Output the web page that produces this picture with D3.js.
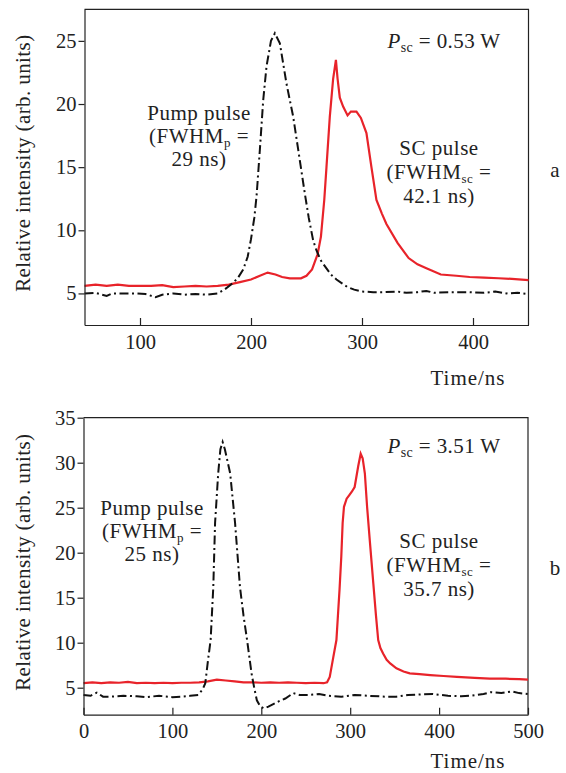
<!DOCTYPE html>
<html>
<head>
<meta charset="utf-8">
<script src="https://cdn.jsdelivr.net/npm/d3@7"></script>
<style>
  body { margin: 0; background: #fff; }
  svg text { font-family: "Liberation Serif", "Times New Roman", Times, "DejaVu Serif", serif; fill: #222; }
</style>
</head>
<body>
<script>
// panel a: time (ns), relative intensity
var pumpA = [[50,5.0],[60,5.05],[70,4.8],[75,5.0],[85,5.0],[95,5.0],[105,4.95],[114,4.7],[120,4.9],[130,5.0],[140,4.9],[150,4.95],[160,4.9],[170,5.0],[176,5.3],[182,5.7],[188,6.2],[193,6.9],[197,7.9],[200,9.3],[203,11],[205,12.7],[208,16.4],[211,20.3],[214,23],[218,25],[221.5,25.6],[226,24.8],[232,21.6],[238,19],[242.5,16.4],[248.5,12.9],[252,11],[256,9.2],[259,8.4],[263,7.6],[267,7.1],[272,6.5],[277,6.1],[282,5.8],[287,5.5],[293,5.3],[300,5.15],[310,5.1],[320,5.1],[332,5.15],[340,5.05],[350,5.1],[358,5.2],[365,5.05],[380,5.1],[397,5.1],[410,5.05],[420,5.15],[430,5.0],[440,5.05],[450,4.95]];
var scA = [[50,5.6],[60,5.7],[70,5.6],[80,5.7],[90,5.6],[100,5.6],[110,5.6],[120,5.65],[130,5.5],[140,5.55],[150,5.6],[160,5.55],[170,5.6],[180,5.7],[190,5.9],[200,6.1],[208,6.4],[215,6.65],[222,6.5],[228,6.3],[235,6.2],[245,6.2],[250,6.4],[255,6.9],[260,8.1],[263,9.5],[266,12.4],[268,15],[271,19],[274,22],[276.5,23.5],[278,22],[280,20.5],[283,19.8],[287,19.1],[290,19.4],[295,19.4],[299,18.9],[304,17.7],[308.5,15],[313,12.4],[318,11.3],[322,10.5],[332,9.0],[342,7.8],[350,7.3],[358,7.0],[371,6.5],[385,6.4],[397,6.3],[410,6.25],[423,6.2],[435,6.15],[450,6.05]];

// panel b
var pumpB = [[0,4.2],[8,4.1],[15,4.45],[22,4.0],[30,4.0],[45,4.1],[60,4.05],[70,3.95],[85,4.1],[100,3.95],[110,4.0],[120,4.1],[129,4.2],[134,4.8],[137,5.5],[140,8],[143,10.3],[146,16.2],[148,23.3],[151.5,28.8],[154,31.5],[156.5,32.3],[159,31.5],[165,28.8],[170.5,23.3],[176,16.2],[180,13],[184,10.3],[189,6.6],[192,5],[195,3.6],[199,2.9],[203,2.7],[208,2.9],[214,3.2],[220,3.5],[227,3.8],[236,4.4],[243,4.2],[255,4.2],[265,4.3],[275,4.1],[290,4.0],[305,4.2],[320,4.1],[340,4.0],[352,4.0],[365,4.2],[380,4.25],[393,4.3],[410,4.1],[425,4.05],[435,4.1],[450,4.3],[458,4.5],[470,4.4],[482,4.6],[490,4.4],[500,4.3]];
var scB = [[0,5.5],[10,5.6],[20,5.5],[30,5.6],[40,5.55],[50,5.65],[60,5.5],[70,5.55],[80,5.5],[90,5.55],[100,5.5],[110,5.55],[120,5.55],[130,5.6],[140,5.7],[150,5.9],[160,5.8],[170,5.7],[180,5.6],[190,5.6],[200,5.55],[210,5.6],[220,5.55],[230,5.6],[240,5.55],[250,5.5],[260,5.55],[270,5.5],[274,5.6],[277,6.2],[281,8.4],[284.5,10.3],[286.5,13.5],[288,15.9],[290,19.6],[291.5,23.3],[293,25.1],[296,26],[299,26.4],[302,26.8],[305,27.3],[309,29.6],[311.8,31],[314,30.5],[316.5,28.8],[319,25.1],[322,21.4],[326,16.6],[329,13],[331.5,10.3],[334,9.4],[337,8.8],[341,8.1],[345,7.7],[352,7.15],[360,6.8],[367,6.6],[378,6.5],[390,6.4],[405,6.3],[420,6.2],[440,6.1],[457,6.0],[475,6.0],[490,5.95],[500,5.9]];

var xTicksA = [100,200,300,400];
var yTicksA = [5,10,15,20,25];
var xTicksB = [0,100,200,300,400,500];
var yTicksB = [5,10,15,20,25,30,35];

var serif = '"Liberation Serif", "Times New Roman", Times, "DejaVu Serif", serif';

var svg = d3.select("body").append("svg").attr("width", 566).attr("height", 773)
  .attr("font-family", serif);

// three-line note, one text per line, subscript in the middle line
function note(g, cx, cy, first, sub, last, gap) {
  g.append("text").attr("x", cx).attr("y", cy).attr("text-anchor", "middle")
    .attr("font-size", 21).attr("letter-spacing", 0.5).text(first);
  var mid = g.append("text").attr("x", cx).attr("y", cy + gap).attr("text-anchor", "middle")
    .attr("font-size", 21).attr("letter-spacing", 0.5);
  mid.append("tspan").text("(FWHM");
  mid.append("tspan").attr("font-size", 13).attr("dy", 3.5).text(sub);
  mid.append("tspan").attr("dy", -3.5).text(" =");
  g.append("text").attr("x", cx).attr("y", cy + 2 * gap).attr("text-anchor", "middle")
    .attr("font-size", 21).attr("letter-spacing", 0.5).text(last);
}

function panel(o) {
  var x = d3.scaleLinear().domain(o.xd).range([o.left, o.right]);
  var y = d3.scaleLinear().domain(o.yd).range([o.bottom, o.top]);
  var g = svg.append("g");

  // frame top + right
  g.append("path")
    .attr("d", "M" + o.left + "," + o.top + "H" + o.right + "V" + o.bottom)
    .attr("fill", "none").attr("stroke", "#222").attr("stroke-width", 1.2);

  var line = d3.line().x(function(d){return x(d[0]);}).y(function(d){return y(d[1]);});

  g.append("path").datum(o.sc)
    .attr("d", line).attr("fill", "none")
    .attr("stroke", "#e8232a").attr("stroke-width", 2.2);
  g.append("path").datum(o.pump)
    .attr("d", line).attr("fill", "none")
    .attr("stroke", "#111").attr("stroke-width", 2)
    .attr("stroke-dasharray", "9,3.5,2,3.5");

  var ax = g.append("g").attr("transform", "translate(0," + o.bottom + ")")
    .call(d3.axisBottom(x).tickValues(o.xt).tickSize(-7).tickSizeOuter(0).tickPadding(9));
  var ay = g.append("g").attr("transform", "translate(" + o.left + ",0)")
    .call(d3.axisLeft(y).tickValues(o.yt).tickSize(6).tickSizeOuter(0).tickPadding(2));
  [ax, ay].forEach(function(a){
    a.attr("font-family", serif).attr("font-size", 20.5);
    a.select(".domain").attr("stroke", "#222").attr("stroke-width", 1.2);
    a.selectAll(".tick line").attr("stroke", "#222").attr("stroke-width", 1.2);
    a.selectAll("text").attr("fill", "#222");
  });

  // y title
  g.append("text")
    .attr("transform", "translate(30," + ((o.top + o.bottom) / 2 - 4) + ") rotate(-90)")
    .attr("text-anchor", "middle").attr("font-size", 21).attr("letter-spacing", 0.4)
    .text("Relative intensity (arb. units)");

  // x title
  g.append("text").attr("x", 468).attr("y", o.titleY)
    .attr("text-anchor", "middle").attr("font-size", 21).attr("letter-spacing", 1)
    .text("Time/ns");

  // power
  var p = g.append("text").attr("x", 444).attr("y", o.pTop)
    .attr("text-anchor", "middle").attr("font-size", 21).attr("letter-spacing", 0.4);
  p.append("tspan").attr("font-style", "italic").text("P");
  p.append("tspan").attr("font-size", 14).attr("dy", 4).text("sc");
  p.append("tspan").attr("dy", -4).text(" = " + o.power);

  note(g, o.pumpX, o.pumpY, "Pump pulse", "p", o.pumpW, 23);
  note(g, 439, o.scY, "SC pulse", "sc", o.scW, 24);

  g.append("text").attr("x", 555).attr("y", o.letterY).attr("text-anchor", "middle")
    .attr("font-size", 21).text(o.letter);
}

panel({ xd: [50, 450], yd: [2.5, 27.5], left: 84.5, right: 528.5, top: 9.3, bottom: 325,
  xt: xTicksA, yt: yTicksA, pump: pumpA, sc: scA, titleY: 385,
  power: "0.53 W", pTop: 48, pumpX: 199, pumpY: 120, pumpW: "29 ns)",
  scY: 155, scW: "42.1 ns)", letter: "a", letterY: 177 });

panel({ xd: [0, 500], yd: [2, 35], left: 83.5, right: 528, top: 417.7, bottom: 714.7,
  xt: xTicksB, yt: yTicksB, pump: pumpB, sc: scB, titleY: 768,
  power: "3.51 W", pTop: 453, pumpX: 152, pumpY: 515, pumpW: "25 ns)",
  scY: 548, scW: "35.7 ns)", letter: "b", letterY: 575 });
</script>
</body>
</html>
